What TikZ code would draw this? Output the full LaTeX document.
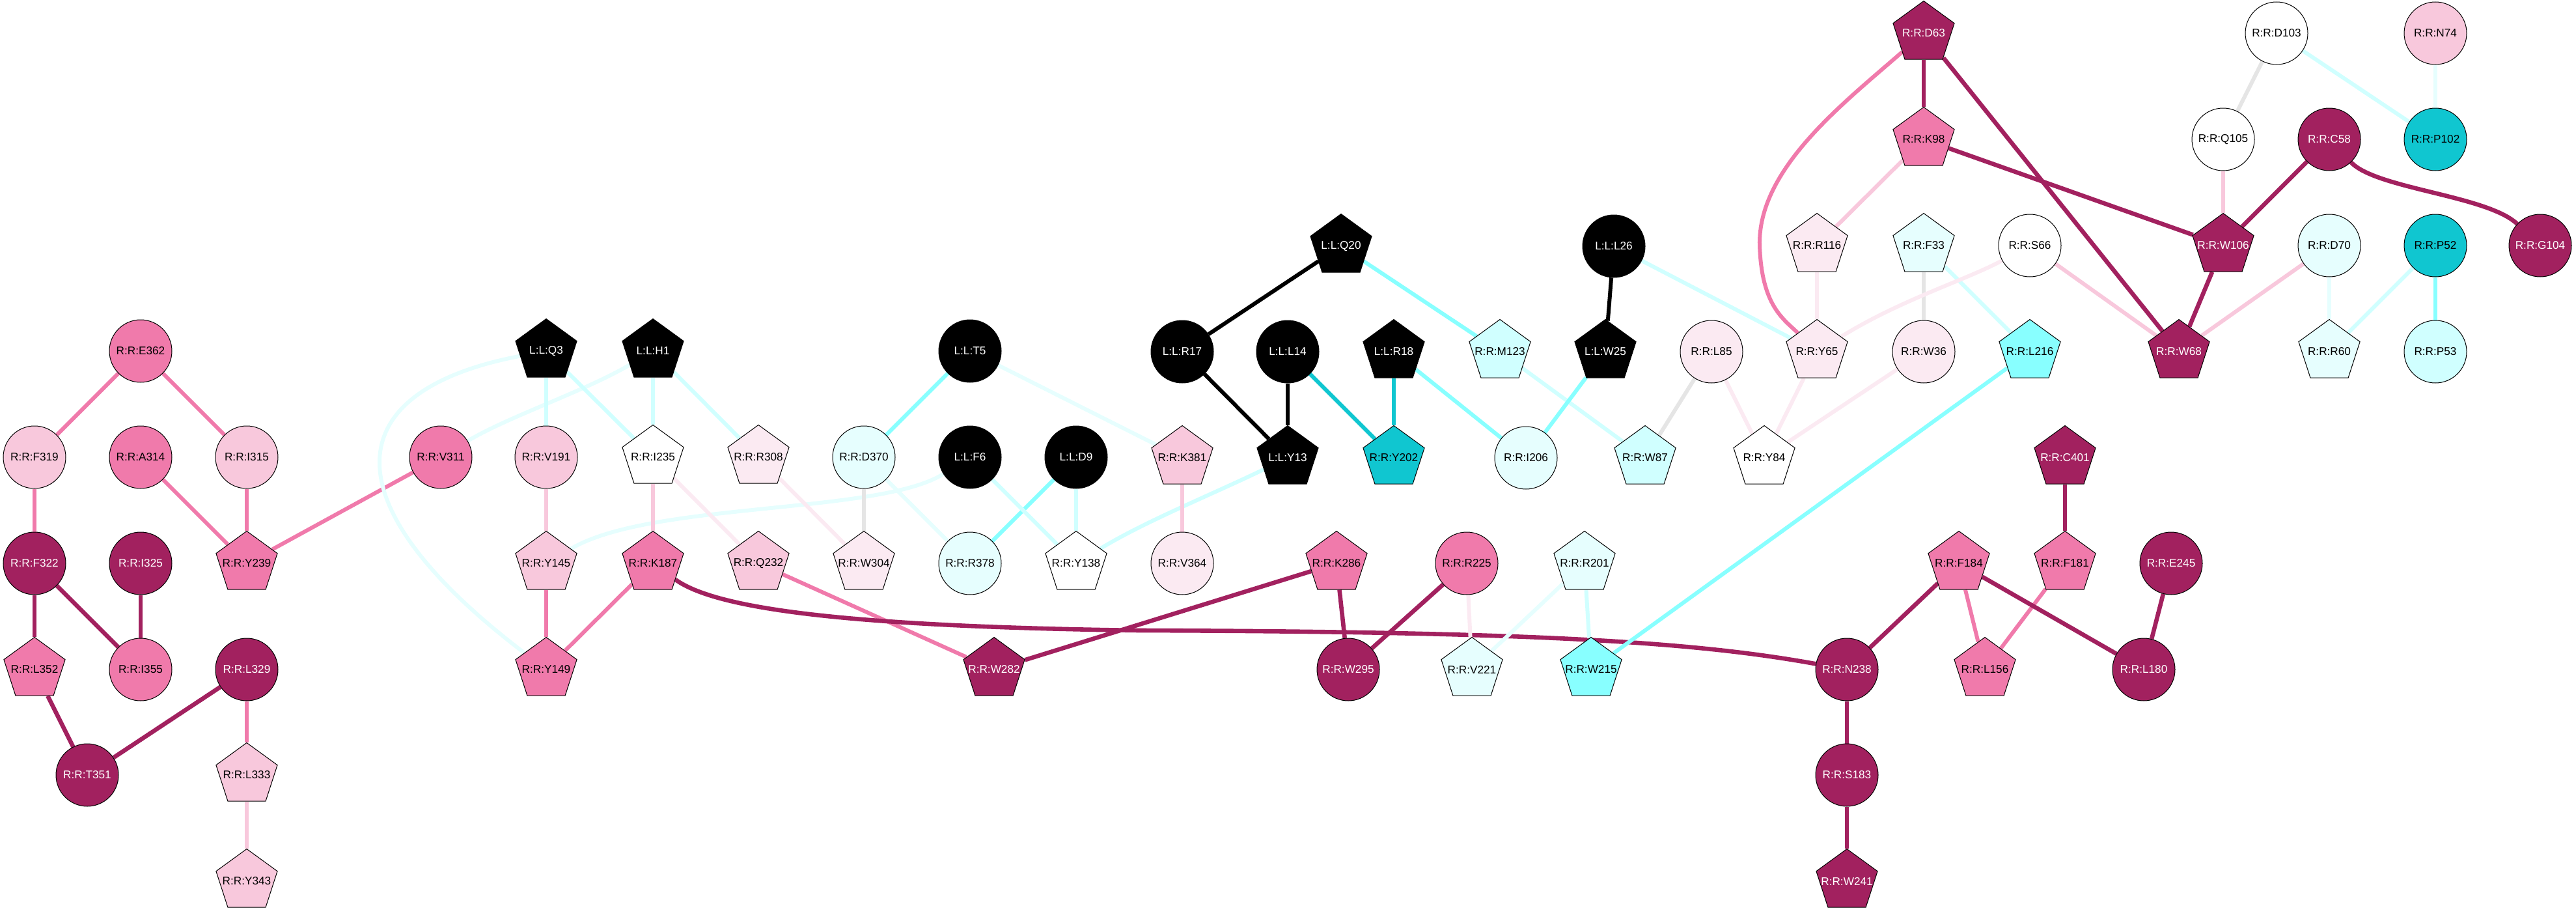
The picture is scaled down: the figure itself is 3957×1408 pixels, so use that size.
\documentclass[tikz,border=0pt]{standalone}
\usepackage{fontspec}
\setmainfont{Liberation Sans}
\usetikzlibrary{shapes.geometric}
\definecolor{dmag}{HTML}{A2215F}
\definecolor{mpink}{HTML}{F07AAB}
\definecolor{lpink}{HTML}{F8C8DC}
\definecolor{vlpink}{HTML}{FBEAF2}
\definecolor{grayE}{HTML}{E5E5E5}
\definecolor{vlcyan}{HTML}{E6FEFE}
\definecolor{lcyan}{HTML}{D0FFFF}
\definecolor{cyanM}{HTML}{88FFFF}
\definecolor{dcyan}{HTML}{10C6D0}
\pgfdeclarelayer{bg}
\pgfsetlayers{bg,main}
\begin{document}
\begin{tikzpicture}[x=0.5pt,y=-0.5pt,
  base/.style={draw=black, line width=0.5pt, inner sep=0pt,
    font=\fontsize{8.6}{10}\selectfont,
    execute at begin node={\hbox to 0pt\bgroup\hss},
    execute at end node={\hss\egroup}},
  cres/.style={base, circle, minimum size=48pt},
  pres/.style={base, regular polygon, regular polygon sides=5, minimum size=49.5pt},
  fdmag/.style={fill=dmag, text=white},
  fmpink/.style={fill=mpink},
  flpink/.style={fill=lpink},
  fvlpink/.style={fill=vlpink},
  fwhite/.style={fill=white},
  fvlcyan/.style={fill=vlcyan},
  flcyan/.style={fill=lcyan},
  fcyan/.style={fill=cyanM},
  fdcyan/.style={fill=dcyan},
  fblack/.style={fill=black, text=white},
  edge/.style={line width=3pt},
  edmag/.style={edge, draw=dmag, line width=3.3pt},
  empink/.style={edge, draw=mpink},
  elpink/.style={edge, draw=lpink},
  evlpink/.style={edge, draw=vlpink},
  egray/.style={edge, draw=grayE},
  evlcyan/.style={edge, draw=vlcyan},
  elcyan/.style={edge, draw=lcyan},
  ecyan/.style={edge, draw=cyanM},
  edcyan/.style={edge, draw=dcyan},
  eblack/.style={edge, draw=black},
]
\useasboundingbox (0,0) rectangle (3957,1408);

% ---- left group
\node[cres,fmpink] (E362) at (216,539) {R:R:E362};
\node[cres,flpink] (F319) at (53,702) {R:R:F319};
\node[cres,fmpink] (A314) at (216,702) {R:R:A314};
\node[cres,flpink] (I315) at (379,702) {R:R:I315};
\node[cres,fmpink] (V311) at (677,702) {R:R:V311};
\node[cres,fdmag] (F322) at (53,865) {R:R:F322};
\node[cres,fdmag] (I325) at (216,865) {R:R:I325};
\node[pres,fmpink] (Y239) at (379,865) {R:R:Y239};
\node[pres,fmpink] (L352) at (53,1028) {R:R:L352};
\node[cres,fmpink] (I355) at (216,1028) {R:R:I355};
\node[cres,fdmag] (L329) at (379,1028) {R:R:L329};
\node[cres,fdmag] (T351) at (134,1190) {R:R:T351};
\node[pres,flpink] (L333) at (379,1190) {R:R:L333};
\node[pres,flpink] (Y343) at (379,1353) {R:R:Y343};

% ---- middle group
\node[pres,fblack] (Q3) at (839,539) {L:L:Q3};
\node[pres,fblack] (H1) at (1003,539) {L:L:H1};
\node[cres,fblack] (T5) at (1490,539) {L:L:T5};
\node[cres,flpink] (V191) at (839,702) {R:R:V191};
\node[pres,fwhite] (I235) at (1003,702) {R:R:I235};
\node[pres,fvlpink] (R308) at (1165,702) {R:R:R308};
\node[cres,fvlcyan] (D370) at (1327,702) {R:R:D370};
\node[cres,fblack] (F6) at (1490,702) {L:L:F6};
\node[cres,fblack] (D9) at (1653,702) {L:L:D9};
\node[pres,flpink] (Y145) at (839,865) {R:R:Y145};
\node[pres,fmpink] (K187) at (1003,865) {R:R:K187};
\node[pres,flpink] (Q232) at (1165,865) {R:R:Q232};
\node[pres,fvlpink] (W304) at (1327,865) {R:R:W304};
\node[cres,fvlcyan] (R378) at (1490,865) {R:R:R378};
\node[pres,fwhite] (Y138) at (1653,865) {R:R:Y138};
\node[pres,fmpink] (Y149) at (839,1028) {R:R:Y149};
\node[pres,fdmag] (W282) at (1527,1028) {R:R:W282};

% ---- centre group
\node[pres,fblack] (Q20) at (2060,378) {L:L:Q20};
\node[cres,fblack] (L26) at (2479,378) {L:L:L26};
\node[cres,fblack] (R17) at (1816,540) {L:L:R17};
\node[cres,fblack] (L14) at (1978,540) {L:L:L14};
\node[pres,fblack] (R18) at (2141,540) {L:L:R18};
\node[pres,flcyan] (M123) at (2304,540) {R:R:M123};
\node[pres,fblack] (W25) at (2466,540) {L:L:W25};
\node[cres,fvlpink] (L85) at (2629,540) {R:R:L85};
\node[pres,flpink] (K381) at (1816,703) {R:R:K381};
\node[pres,fblack] (Y13) at (1978,703) {L:L:Y13};
\node[pres,fdcyan] (Y202) at (2141,703) {R:R:Y202};
\node[cres,fvlcyan] (I206) at (2344,703) {R:R:I206};
\node[pres,flcyan] (W87) at (2527,703) {R:R:W87};
\node[cres,fvlpink] (V364) at (1816,865) {R:R:V364};
\node[pres,fmpink] (K286) at (2053,865) {R:R:K286};
\node[cres,fmpink] (R225) at (2253,865) {R:R:R225};
\node[pres,fvlcyan] (R201) at (2434,865) {R:R:R201};
\node[cres,fdmag] (W295) at (2071,1028) {R:R:W295};
\node[pres,fvlcyan] (V221) at (2261,1028) {R:R:V221};
\node[pres,fcyan] (W215) at (2444,1028) {R:R:W215};

% ---- right group
\node[pres,fdmag] (D63) at (2955,51) {R:R:D63};
\node[cres,fwhite] (D103) at (3497,51) {R:R:D103};
\node[cres,flpink] (N74) at (3741,51) {R:R:N74};
\node[pres,fmpink] (K98) at (2955,214) {R:R:K98};
\node[cres,fwhite] (Q105) at (3415,214) {R:R:Q105};
\node[cres,fdmag] (C58) at (3578,214) {R:R:C58};
\node[cres,fdcyan] (P102) at (3741,214) {R:R:P102};
\node[pres,fvlpink] (R116) at (2791,377) {R:R:R116};
\node[pres,fvlcyan] (F33) at (2955,377) {R:R:F33};
\node[cres,fwhite] (S66) at (3118,377) {R:R:S66};
\node[pres,fdmag] (W106) at (3415,377) {R:R:W106};
\node[cres,fvlcyan] (D70) at (3578,377) {R:R:D70};
\node[cres,fdcyan] (P52) at (3741,377) {R:R:P52};
\node[cres,fdmag] (G104) at (3902,377) {R:R:G104};
\node[pres,fvlpink] (Y65) at (2791,540) {R:R:Y65};
\node[cres,fvlpink] (W36) at (2955,540) {R:R:W36};
\node[pres,fcyan] (L216) at (3118,540) {R:R:L216};
\node[pres,fdmag] (W68) at (3347,540) {R:R:W68};
\node[pres,fvlcyan] (R60) at (3578,540) {R:R:R60};
\node[cres,flcyan] (P53) at (3741,540) {R:R:P53};
\node[pres,fwhite] (Y84) at (2710,703) {R:R:Y84};
\node[pres,fdmag] (C401) at (3172,703) {R:R:C401};
\node[pres,fmpink] (F184) at (3009,865) {R:R:F184};
\node[pres,fmpink] (F181) at (3172,865) {R:R:F181};
\node[cres,fdmag] (E245) at (3335,865) {R:R:E245};
\node[cres,fdmag] (N238) at (2837,1028) {R:R:N238};
\node[pres,fmpink] (L156) at (3049,1028) {R:R:L156};
\node[cres,fdmag] (L180) at (3293,1028) {R:R:L180};
\node[cres,fdmag] (S183) at (2837,1190) {R:R:S183};
\node[pres,fdmag] (W241) at (2837,1353) {R:R:W241};

\begin{pgfonlayer}{bg}
% left
\draw[empink] (E362) -- (F319);
\draw[empink] (E362) -- (I315);
\draw[empink] (A314) -- (Y239);
\draw[empink] (I315) -- (Y239);
\draw[empink] (V311) -- (Y239);
\draw[empink] (F319) -- (F322);
\draw[edmag] (F322) -- (L352);
\draw[edmag] (F322) -- (I355);
\draw[edmag] (I325) -- (I355);
\draw[edmag] (L352) -- (T351);
\draw[edmag] (L329) -- (T351);
\draw[empink] (L329) -- (L333);
\draw[elpink] (L333) -- (Y343);
% middle
\draw[evlcyan] (Q3) .. controls (520,600) and (500,770) .. (Y149);
\draw[evlcyan] (H1) .. controls (900,600) and (780,640) .. (V311);
\draw[evlcyan] (F6) .. controls (1350,790) and (1000,770) .. (Y145);
\draw[elcyan] (Q3) -- (V191);
\draw[elcyan] (Q3) -- (I235);
\draw[elcyan] (H1) -- (I235);
\draw[elcyan] (H1) -- (R308);
\draw[elpink] (V191) -- (Y145);
\draw[elpink] (I235) -- (K187);
\draw[evlpink] (I235) -- (Q232);
\draw[evlpink] (R308) -- (W304);
\draw[egray] (D370) -- (W304);
\draw[ecyan] (T5) -- (D370);
\draw[evlcyan] (T5) -- (K381);
\draw[evlcyan] (D370) -- (R378);
\draw[ecyan] (D9) -- (R378);
\draw[elcyan] (F6) -- (Y138);
\draw[elcyan] (D9) -- (Y138);
\draw[empink] (Y145) -- (Y149);
\draw[empink] (K187) -- (Y149);
\draw[empink] (Q232) -- (W282);
\draw[edmag] (W282) -- (K286);
\draw[edmag] (K187) .. controls (1100,935) and (1300,962) .. (1750,968)
  .. controls (2350,970) and (2600,985) .. (N238);
% centre
\draw[eblack] (Q20) -- (R17);
\draw[eblack] (R17) -- (Y13);
\draw[eblack] (L14) -- (Y13);
\draw[edcyan] (L14) -- (Y202);
\draw[edcyan] (R18) -- (Y202);
\draw[ecyan] (Q20) -- (M123);
\draw[ecyan] (R18) -- (I206);
\draw[elcyan] (M123) -- (W87);
\draw[eblack] (L26) -- (W25);
\draw[ecyan] (W25) -- (I206);
\draw[elcyan] (L26) -- (Y65);
\draw[egray] (L85) -- (W87);
\draw[elcyan] (Y13) .. controls (1860,760) and (1760,800) .. (Y138);
\draw[elpink] (K381) -- (V364);
\draw[edmag] (K286) -- (W295);
\draw[edmag] (R225) -- (W295);
\draw[evlpink] (R225) -- (V221);
\draw[evlcyan] (R201) -- (V221);
\draw[elcyan] (R201) -- (W215);
\draw[ecyan] (L216) -- (W215);
% right
\draw[edmag] (D63) -- (K98);
\draw[edmag] (D63) -- (W68);
\draw[empink] (D63) .. controls (2830,160) and (2700,260) .. (2703,377)
  .. controls (2706,470) and (2740,490) .. (Y65);
\draw[edmag] (K98) -- (W106);
\draw[elpink] (K98) -- (R116);
\draw[egray] (D103) -- (Q105);
\draw[elcyan] (D103) -- (P102);
\draw[evlcyan] (N74) -- (P102);
\draw[elpink] (Q105) -- (W106);
\draw[edmag] (C58) -- (W106);
\draw[edmag] (C58) .. controls (3650,290) and (3820,300) .. (G104);
\draw[evlpink] (R116) -- (Y65);
\draw[egray] (F33) -- (W36);
\draw[elcyan] (F33) -- (L216);
\draw[evlpink] (S66) .. controls (3020,430) and (2920,460) .. (Y65);
\draw[elpink] (S66) -- (W68);
\draw[edmag] (W106) -- (W68);
\draw[elpink] (D70) -- (W68);
\draw[evlcyan] (D70) -- (R60);
\draw[elcyan] (P52) -- (R60);
\draw[ecyan] (P52) -- (P53);
\draw[evlpink] (L85) -- (Y84);
\draw[evlpink] (Y65) -- (Y84);
\draw[evlpink] (W36) -- (Y84);
\draw[edmag] (C401) -- (F181);
\draw[edmag] (F184) -- (N238);
\draw[empink] (F184) -- (L156);
\draw[empink] (F181) -- (L156);
\draw[edmag] (F184) -- (L180);
\draw[edmag] (E245) -- (L180);
\draw[edmag] (N238) -- (S183);
\draw[edmag] (S183) -- (W241);
\end{pgfonlayer}
\end{tikzpicture}
\end{document}
